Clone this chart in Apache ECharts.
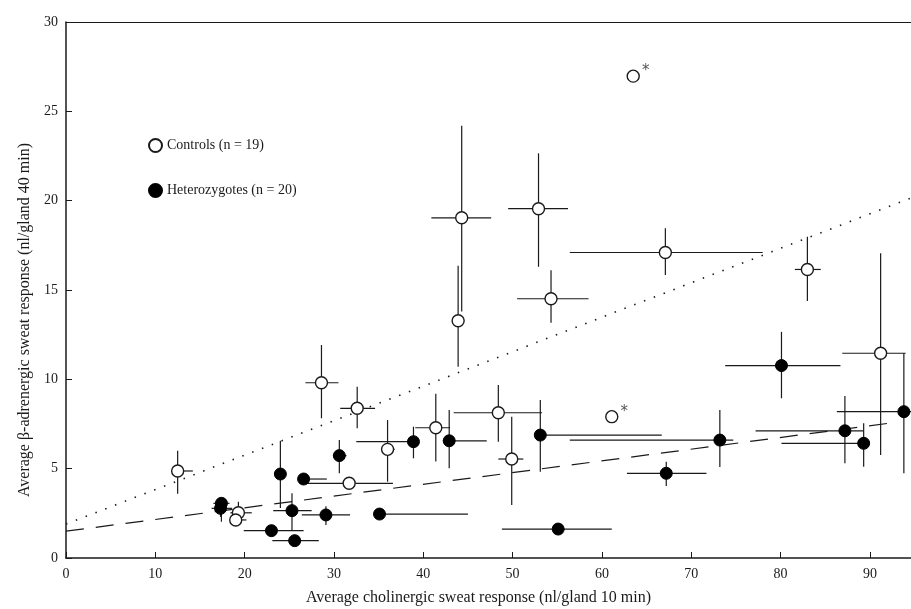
<!DOCTYPE html>
<html>
<head>
<meta charset="utf-8">
<script src="https://cdn.jsdelivr.net/npm/echarts@6/dist/echarts.min.js"></script>
<style>
  html, body { margin: 0; padding: 0; background: #fff; }
  #chart { width: 911px; height: 609px; }
</style>
</head>
<body>
<div id="chart"></div>
<script>
// Controls (open circles): mean x, mean y, and error bar ends
const ctrlX    = [12.5, 19.3, 19.0, 31.7, 32.6, 28.6, 36.0, 41.4, 48.4, 49.9, 61.1, 43.9, 44.3, 52.9, 54.3, 67.1, 63.5, 83.0, 91.2];
const ctrlY    = [4.87, 2.53, 2.13, 4.18, 8.38, 9.81, 6.08, 7.29, 8.13, 5.54, 7.91, 13.28, 19.04, 19.55, 14.51, 17.1, 26.97, 16.15, 11.46];
const ctrlXLo  = [11.9, 18.4, 18.4, 27.0, 30.7, 26.8, 35.3, 39.1, 43.4, 48.4, 61.1, 43.9, 40.9, 49.5, 50.5, 56.4, 63.5, 81.6, 86.9];
const ctrlXHi  = [14.2, 20.8, 20.2, 36.6, 34.6, 30.5, 36.8, 43.0, 53.3, 51.2, 61.1, 43.9, 47.6, 56.2, 58.5, 78.0, 63.5, 84.5, 94.0];
const ctrlYLo  = [3.6, 2.0, 2.13, 4.18, 7.26, 7.82, 4.27, 5.4, 6.51, 2.97, 7.91, 10.7, 13.8, 16.3, 13.17, 15.84, 26.97, 14.38, 5.76];
const ctrlYHi  = [6.0, 3.15, 2.13, 4.18, 9.59, 11.92, 7.72, 9.2, 9.68, 7.9, 7.91, 16.36, 24.2, 22.65, 16.1, 18.45, 26.97, 17.98, 17.05];
const ctrlStar = [10, 16];   // points marked with an asterisk

// Heterozygotes (filled circles)
const hetX   = [17.4, 17.3, 24.0, 25.3, 23.0, 25.6, 26.6, 30.6, 29.1, 35.1, 38.9, 42.9, 53.1, 55.1, 67.2, 73.2, 80.1, 87.2, 89.3, 93.8];
const hetY   = [3.06, 2.78, 4.7, 2.65, 1.53, 0.97, 4.42, 5.73, 2.41, 2.46, 6.51, 6.56, 6.88, 1.62, 4.74, 6.6, 10.77, 7.12, 6.42, 8.19];
const hetXLo = [16.5, 16.3, 24.0, 23.2, 19.9, 23.1, 26.0, 29.9, 26.4, 34.5, 32.5, 42.2, 52.6, 48.8, 62.8, 56.4, 73.8, 77.2, 80.1, 86.3];
const hetXHi = [18.3, 18.6, 24.0, 27.5, 26.6, 28.3, 29.2, 31.4, 31.8, 45.0, 39.5, 47.1, 66.7, 61.1, 71.7, 74.7, 86.7, 89.3, 89.6, 94.6];
const hetYLo = [2.03, 2.3, 2.8, 1.57, 1.53, 0.97, 4.42, 4.75, 1.85, 2.46, 5.58, 5.02, 4.83, 1.62, 4.03, 5.1, 8.94, 5.3, 5.11, 4.74];
const hetYHi = [3.34, 3.2, 6.56, 3.62, 1.53, 0.97, 4.42, 6.6, 2.9, 2.46, 7.35, 8.28, 8.84, 1.62, 5.39, 8.28, 12.66, 9.07, 7.54, 11.46];

// regression lines (end points)
const dottedLine = [[0, 1.9], [94.6, 20.15]];
const dashedLine = [[0, 1.5], [93, 7.6]];

const xTicks = { min: 0, max: 94.6, interval: 10 };
const yTicks = { min: 0, max: 30, interval: 5 };

const serif = 'Liberation Serif';
const ink = '#1a1a1a';

function bars(xs, ys, xlo, xhi, ylo, yhi) {
  return xs.map((x, i) => [x, ys[i], xlo[i], xhi[i], ylo[i], yhi[i]]);
}

function renderBar(params, api) {
  const y = api.value(1), x = api.value(0);
  const a = api.coord([api.value(2), y]);
  const b = api.coord([api.value(3), y]);
  const c = api.coord([x, api.value(4)]);
  const d = api.coord([x, api.value(5)]);
  const st = { stroke: ink, lineWidth: 1.2 };
  return {
    type: 'group',
    children: [
      { type: 'line', shape: { x1: a[0], y1: a[1], x2: b[0], y2: b[1] }, style: st },
      { type: 'line', shape: { x1: c[0], y1: c[1], x2: d[0], y2: d[1] }, style: st }
    ]
  };
}

const ctrlPoints = ctrlX.map((x, i) => {
  const item = { value: [x, ctrlY[i]] };
  if (ctrlStar.includes(i)) {
    item.label = {
      show: true, formatter: '*', position: 'right', offset: [-3, -5],
      fontSize: 15, color: '#555', fontFamily: 'DejaVu Sans'
    };
  }
  return item;
});

const chart = echarts.init(document.getElementById('chart'));
chart.setOption({
  animation: false,
  backgroundColor: '#fff',
  grid: { left: 66, right: 0, top: 22, bottom: 51, outerBoundsMode: 'none', containLabel: false },
  legend: {
    orient: 'vertical',
    left: 143,
    top: 133,
    itemGap: 30,
    itemWidth: 13,
    itemHeight: 13,
    data: [
      { name: 'Controls (n = 19)', icon: 'circle' },
      { name: 'Heterozygotes (n = 20)', icon: 'circle' }
    ],
    textStyle: { fontFamily: serif, fontSize: 14, color: ink }
  },
  xAxis: [{
    type: 'value',
    min: xTicks.min, max: xTicks.max, interval: xTicks.interval,
    splitLine: { show: false },
    axisLine: { lineStyle: { color: ink, width: 1.5 } },
    axisTick: { inside: true, length: 6, lineStyle: { color: ink } },
    axisLabel: { fontFamily: serif, fontSize: 14, color: ink, margin: 9, showMaxLabel: false },
    name: 'Average cholinergic sweat response (nl/gland 10 min)',
    nameLocation: 'middle',
    nameGap: 32,
    nameTextStyle: { fontFamily: serif, fontSize: 16, color: ink, padding: [0, 20, 0, 0] }
  }, {
    type: 'value', position: 'top',
    min: xTicks.min, max: xTicks.max,
    splitLine: { show: false }, axisTick: { show: false }, axisLabel: { show: false },
    axisLine: { lineStyle: { color: ink, width: 1.2 } }
  }],
  yAxis: {
    type: 'value',
    min: yTicks.min, max: yTicks.max, interval: yTicks.interval,
    splitLine: { show: false },
    axisLine: { lineStyle: { color: ink, width: 1.5 } },
    axisTick: { inside: true, length: 6, lineStyle: { color: ink } },
    axisLabel: { fontFamily: serif, fontSize: 14, color: ink, margin: 8 },
    name: 'Average β-adrenergic sweat response (nl/gland 40 min)',
    nameLocation: 'middle',
    nameGap: 30,
    nameTextStyle: { fontFamily: serif, fontSize: 16, color: ink, padding: [0, 60, 0, 0] }
  },
  series: [
    {
      type: 'line', data: dottedLine, symbol: 'none', silent: true,
      lineStyle: { color: ink, width: 1.6, type: [1.5, 9] }, z: 1
    },
    {
      type: 'line', data: dashedLine, symbol: 'none', silent: true,
      lineStyle: { color: ink, width: 1.2, type: [18, 12] }, z: 1
    },
    {
      type: 'custom', renderItem: renderBar, z: 2,
      encode: { x: [0, 2, 3], y: [1, 4, 5] },
      data: bars(ctrlX, ctrlY, ctrlXLo, ctrlXHi, ctrlYLo, ctrlYHi)
    },
    {
      type: 'custom', renderItem: renderBar, z: 2,
      encode: { x: [0, 2, 3], y: [1, 4, 5] },
      data: bars(hetX, hetY, hetXLo, hetXHi, hetYLo, hetYHi)
    },
    {
      name: 'Controls (n = 19)', type: 'scatter', symbol: 'circle', symbolSize: 12, z: 4,
      itemStyle: { color: '#fff', borderColor: ink, borderWidth: 1.4, opacity: 1 },
      data: ctrlPoints
    },
    {
      name: 'Heterozygotes (n = 20)', type: 'scatter', symbol: 'circle', symbolSize: 12, z: 4,
      itemStyle: { color: '#000', borderColor: '#000', borderWidth: 1, opacity: 1 },
      data: hetX.map((x, i) => [x, hetY[i]])
    }
  ]
});
</script>
</body>
</html>
